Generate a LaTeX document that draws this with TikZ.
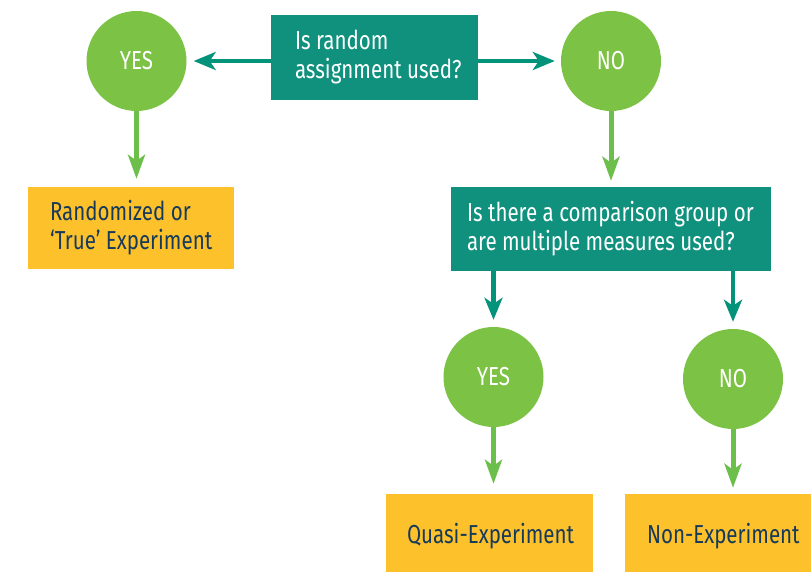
\documentclass[tikz,border=0pt]{standalone}
\usepackage{fontspec}
\setmainfont{Fira Sans}[FakeStretch=0.79]
\usetikzlibrary{arrows.meta}
\definecolor{boxteal}{HTML}{0F917E}
\definecolor{arrteal}{HTML}{03937A}
\definecolor{dotgreen}{HTML}{7CC244}
\definecolor{arrgreen}{HTML}{6BBF4A}
\definecolor{resyellow}{HTML}{FDC22B}
\definecolor{txtnavy}{HTML}{173A5A}
\tikzset{
	qbox/.style={rectangle, fill=boxteal, inner sep=0pt},
	rbox/.style={rectangle, fill=resyellow, inner sep=0pt},
	qtext/.style={anchor=west, inner sep=0pt, align=left, text=white, font=\fontsize{26}{29}\selectfont},
	rtext/.style={anchor=west, inner sep=0pt, align=left, text=txtnavy, font=\fontsize{26}{29}\selectfont},
	dot/.style={circle, fill=dotgreen, minimum size=100pt, inner sep=0pt, text=white, font=\fontsize{26}{29}\selectfont},
	tealarrow/.style={line width=4.4pt, color=arrteal, -{Stealth[length=22pt, width=18pt, inset=6pt]}},
	greenarrow/.style={line width=5pt, color=arrgreen, -{Stealth[length=24pt, width=17pt, inset=6pt]}}
}

\begin{document}
\begin{tikzpicture}[x=1pt, y=-1pt]
	%%%%% START %%%%%
	\useasboundingbox (0, 0) rectangle (811, 572);
	
	\node[qbox, minimum width=207pt, minimum height=85pt] (q1) at (374.5, 57.5) {};
	\node[qtext] (q1txt) at ([xshift=24pt]q1.west) {Is random\\assignment used?};
	
	\node[dot] (yes1) at (136.5, 61) {YES};
	\node[dot] (no1) at (611, 61) {NO};
	
	\draw[tealarrow, shorten >=7pt] (q1.west |- yes1) -- (yes1.east);
	\draw[tealarrow, shorten >=6pt] (q1.east |- no1) -- (no1.west);
	
	\node[rbox, minimum width=206pt, minimum height=82pt] (res1) at (131, 228) {};
	\node[rtext] (res1txt) at ([xshift=22pt]res1.west) {Randomized or\\`True' Experiment};
	\draw[greenarrow, shorten >=8pt] (yes1.south) -- (yes1.south |- res1.north);
	
	\node[qbox, minimum width=320pt, minimum height=84pt] (q2) at (611, 229) {};
	\node[qtext] (q2txt) at ([xshift=16pt]q2.west) {Is there a comparison group or\\are multiple measures used?};
	\draw[greenarrow, shorten >=6pt] (no1.south) -- (q2.north);
	
	\node[dot] (yes2) at (493.5, 377) {YES};
	\node[dot] (no2) at (733, 379) {NO};
	\draw[tealarrow, shorten >=7pt] (yes2.north |- q2.south) -- (yes2.north);
	\draw[tealarrow, shorten >=7pt] (no2.north |- q2.south) -- (no2.north);
	
	\node[rbox, minimum width=207pt, minimum height=80pt] (res2) at (489.5, 534) {};
	\node[rtext] (res2txt) at ([xshift=21pt, yshift=-2pt]res2.west) {Quasi-Experiment};
	\node[rbox, minimum width=186pt, minimum height=80pt] (res3) at (718, 534) {};
	\node[rtext] (res3txt) at ([xshift=22pt, yshift=-2pt]res3.west) {Non-Experiment};
	
	\draw[greenarrow, shorten >=10pt] (yes2.south) -- (yes2.south |- res2.north);
	\draw[greenarrow, shorten >=6pt] (no2.south) -- (no2.south |- res3.north);
	%%%%% END %%%%%
\end{tikzpicture}
\end{document}
